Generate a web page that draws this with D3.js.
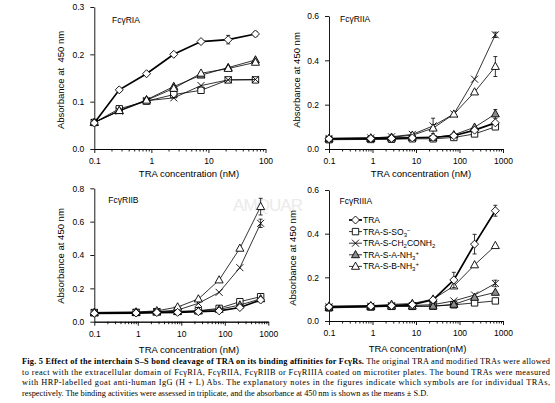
<!DOCTYPE html>
<html>
<head>
<meta charset="utf-8">
<script src="https://cdn.jsdelivr.net/npm/d3@7"></script>
<style>
  body { margin: 0; background: #fff; }
  svg text { font-family: "Liberation Sans", Arial, sans-serif; fill: #000; }
</style>
</head>
<body>
<svg id="drawing_region"></svg>
<script>
// TRA concentrations (nM), 3-fold dilutions
const conc_ria = [0.1, 0.274, 0.823, 2.47, 7.41, 22.2, 66.7];
const conc = [0.1, 0.914, 2.74, 8.23, 24.7, 74.1, 222, 667];

// FcγRIA
const ria_tra = [0.055, 0.125, 0.159, 0.200, 0.227, 0.231, 0.243];
const ria_so3 = [0.056, 0.085, 0.101, 0.115, 0.124, 0.146, 0.146];
const ria_cm  = [0.056, 0.080, 0.102, 0.108, 0.134, 0.146, 0.147];
const ria_anh = [0.056, 0.081, 0.104, 0.132, 0.156, 0.172, 0.188];
const ria_bnh = [0.056, 0.081, 0.103, 0.128, 0.160, 0.170, 0.183];
const ria_tra_sd = [0, 0, 0, 0, 0.003, 0.009, 0.005];

// FcγRIIA
const riia_tra = [0.046, 0.047, 0.048, 0.050, 0.052, 0.060, 0.085, 0.118];
const riia_so3 = [0.042, 0.043, 0.044, 0.046, 0.046, 0.052, 0.068, 0.100];
const riia_cm  = [0.048, 0.050, 0.055, 0.066, 0.104, 0.158, 0.315, 0.515];
const riia_anh = [0.045, 0.047, 0.049, 0.052, 0.052, 0.064, 0.098, 0.158];
const riia_bnh = [0.048, 0.050, 0.053, 0.062, 0.094, 0.157, 0.257, 0.372];
const riia_cm_sd  = [0, 0, 0, 0, 0.035, 0, 0, 0.012];
const riia_anh_sd = [0, 0, 0, 0, 0, 0, 0, 0.02];
const riia_bnh_sd = [0, 0, 0, 0, 0, 0, 0, 0.045];

// FcγRIIB
const riib_tra = [0.050, 0.052, 0.055, 0.056, 0.060, 0.065, 0.085, 0.130];
const riib_so3 = [0.055, 0.056, 0.060, 0.062, 0.066, 0.080, 0.120, 0.150];
const riib_cm  = [0.055, 0.056, 0.060, 0.070, 0.110, 0.176, 0.324, 0.590];
const riib_anh = [0.052, 0.054, 0.057, 0.060, 0.064, 0.074, 0.100, 0.137];
const riib_bnh = [0.056, 0.058, 0.065, 0.088, 0.136, 0.250, 0.440, 0.690];
const riib_cm_sd  = [0, 0, 0, 0, 0, 0, 0, 0.025];
const riib_bnh_sd = [0, 0, 0, 0, 0, 0, 0, 0.05];

// FcγRIIIA
const riiia_tra = [0.065, 0.068, 0.070, 0.075, 0.097, 0.188, 0.352, 0.505];
const riiia_so3 = [0.060, 0.064, 0.067, 0.067, 0.068, 0.074, 0.083, 0.092];
const riiia_cm  = [0.065, 0.068, 0.070, 0.071, 0.075, 0.092, 0.119, 0.172];
const riiia_anh = [0.062, 0.065, 0.068, 0.068, 0.068, 0.076, 0.108, 0.131];
const riiia_bnh = [0.068, 0.070, 0.076, 0.080, 0.100, 0.160, 0.257, 0.345];
const riiia_tra_sd = [0, 0, 0, 0, 0, 0.035, 0.045, 0.025];
const riiia_cm_sd  = [0, 0, 0, 0, 0, 0, 0, 0.015];

// legend labels: [text, 'n' | 'sub' | 'sup']
const legend_labels = [
    [['TRA', 'n']],
    [['TRA-S-SO', 'n'], ['3', 'sub'], ['\u2212', 'sup']],
    [['TRA-S-CH', 'n'], ['2', 'sub'], ['CONH', 'n'], ['2', 'sub']],
    [['TRA-S-A-NH', 'n'], ['3', 'sub'], ['+', 'sup']],
    [['TRA-S-B-NH', 'n'], ['3', 'sub'], ['+', 'sup']]
];

const caption_lines = [
    [['Fig. 5 Effect of the interchain S\u2013S bond cleavage of TRA on its binding affinities for Fc\u03b3Rs.', 'b'],
     [' The original TRA and modified TRAs were allowed', 'n']],
    [['to react with the extracellular domain of Fc\u03b3RIA, Fc\u03b3RIIA, Fc\u03b3RIIB or Fc\u03b3RIIIA coated on microtiter plates. The bound TRAs were measured', 'n']],
    [['with HRP-labelled goat anti-human IgG (H + L) Abs. The explanatory notes in the figures indicate which symbols are for individual TRAs,', 'n']],
    [['respectively. The binding activities were assessed in triplicate, and the absorbance at 450\u2009nm is shown as the means \u00b1 S.D.', 'n']]
];

// series styles (index follows legend_labels)
const styles = [
    {sym: 'diamond', fill: '#fff', lw: 1.7},
    {sym: 'square', fill: '#fff', lw: 0.8},
    {sym: 'cross', fill: 'none', lw: 0.8},
    {sym: 'tri', fill: '#8c8c8c', lw: 0.8},
    {sym: 'tri', fill: '#fff', lw: 0.8}
];
const draw_order = [1, 2, 3, 4, 0];

const symbols = {
    diamond: 'M0,-4L4,0L0,4L-4,0Z',
    square: 'M-3.2,-3.2H3.2V3.2H-3.2Z',
    cross: 'M-3.5,-3.5L3.5,3.5M-3.5,3.5L3.5,-3.5',
    tri: 'M0,-4.3L4,2.9H-4Z'
};

const svg = d3.select('#drawing_region')
    .attr('width', 555)
    .attr('height', 403);

class LogPanel {

    constructor( config, data ) {
        this.config = config;
        this.data = data;
        this.init();
    }

    init() {
        let self = this;
        let c = self.config;

        self.chart = svg.append('g');

        self.xscale = d3.scaleLog()
            .domain( c.xdomain )
            .range( [c.left, c.right] );

        self.yscale = d3.scaleLinear()
            .domain( [0, c.ymax] )
            .range( [c.bottom, c.top] );

        let major = [0.1, 1, 10, 100, 1000].filter(d => d <= c.xdomain[1]);
        let minor = self.xscale.ticks().filter(d => !major.some(m => Math.abs(m - d) < 1e-9));

        self.xaxis = d3.axisBottom( self.xscale )
            .tickValues( major )
            .tickFormat( d3.format('~g') )
            .tickSize(4)
            .tickPadding(5)
            .tickSizeOuter(0);

        self.xminor = d3.axisBottom( self.xscale )
            .tickValues( minor )
            .tickFormat( '' )
            .tickSize(2.5)
            .tickSizeOuter(0);

        self.yaxis = d3.axisLeft( self.yscale )
            .tickValues( d3.range(0, c.ymax + 1e-9, c.ystep) )
            .tickFormat( d3.format('.1f') )
            .tickSize(4)
            .tickPadding(6)
            .tickSizeOuter(0);
    }

    render() {
        let self = this;
        let c = self.config;

        self.chart.append('g')
            .attr('transform', `translate(0, ${c.bottom})`)
            .call( self.xminor );

        self.chart.append('g')
            .attr('transform', `translate(0, ${c.bottom})`)
            .call( self.xaxis );

        self.chart.append('g')
            .attr('transform', `translate(${c.left}, 0)`)
            .call( self.yaxis );

        self.chart.selectAll('.domain, .tick line')
            .attr('stroke', '#000')
            .attr('stroke-width', 0.9);
        self.chart.selectAll('.tick text')
            .attr('font-family', '"Liberation Sans", Arial, sans-serif')
            .attr('font-size', '8.5px')
            .attr('fill', '#000');

        // titles
        self.chart.append('text')
            .attr('x', c.title_x)
            .attr('y', c.title_y)
            .attr('font-size', '8.5px')
            .text(c.title);

        self.chart.append('text')
            .attr('x', c.xlabel_x)
            .attr('y', c.xlabel_y)
            .attr('text-anchor', 'middle')
            .attr('font-size', '9.5px')
            .text(c.xlabel);

        self.chart.append('text')
            .attr('transform', `translate(${c.ylabel_x}, ${c.ylabel_y}) rotate(-90)`)
            .attr('text-anchor', 'middle')
            .attr('font-size', '9.5px')
            .style('white-space', 'pre')
            .text(c.ylabel);

        const line = d3.line()
            .x(d => self.xscale(d.c))
            .y(d => self.yscale(d.v));

        draw_order.forEach(k => {
            let st = styles[k];
            let pts = self.data.conc.map((x, i) => ({
                c: x,
                v: self.data.values[k][i],
                sd: self.data.sd[k] ? self.data.sd[k][i] : 0
            }));

            self.chart.append('path')
                .datum(pts)
                .attr('d', line)
                .attr('fill', 'none')
                .attr('stroke', '#000')
                .attr('stroke-width', st.lw);

            let eb = self.chart.append('g')
                .attr('stroke', '#000')
                .attr('stroke-width', 0.8);
            pts.filter(d => d.sd > 0).forEach(d => {
                let x = self.xscale(d.c);
                let y1 = self.yscale(d.v - d.sd);
                let y2 = self.yscale(d.v + d.sd);
                eb.append('line').attr('x1', x).attr('x2', x).attr('y1', y1).attr('y2', y2);
                eb.append('line').attr('x1', x - 2).attr('x2', x + 2).attr('y1', y1).attr('y2', y1);
                eb.append('line').attr('x1', x - 2).attr('x2', x + 2).attr('y1', y2).attr('y2', y2);
            });

            self.chart.selectAll(null)
                .data(pts)
                .join('path')
                .attr('transform', d => `translate(${self.xscale(d.c)}, ${self.yscale(d.v)})`)
                .attr('d', symbols[st.sym])
                .attr('fill', st.fill)
                .attr('stroke', '#000')
                .attr('stroke-width', 0.9);
        });
    }
}

const panels = [
    {
        config: {left: 94.3, right: 265.5, bottom: 149, top: 7, xdomain: [0.1, 100], ymax: 0.3, ystep: 0.1,
                 title: 'Fc\u03b3RIA', title_x: 112, title_y: 22.5,
                 xlabel: 'TRA concentration (nM)', xlabel_x: 189, xlabel_y: 177,
                 ylabel: 'Absorbance at  450 nm', ylabel_x: 64, ylabel_y: 80},
        data: {conc: conc_ria, values: [ria_tra, ria_so3, ria_cm, ria_anh, ria_bnh],
               sd: [ria_tra_sd, null, null, null, null]}
    },
    {
        config: {left: 329, right: 503, bottom: 149, top: 16, xdomain: [0.1, 1000], ymax: 0.6, ystep: 0.2,
                 title: 'Fc\u03b3RIIA', title_x: 340, title_y: 21.5,
                 xlabel: 'TRA concentration (nM)', xlabel_x: 421, xlabel_y: 177,
                 ylabel: 'Absorbance at 450 nm', ylabel_x: 300, ylabel_y: 80},
        data: {conc: conc, values: [riia_tra, riia_so3, riia_cm, riia_anh, riia_bnh],
               sd: [null, null, riia_cm_sd, riia_anh_sd, riia_bnh_sd]}
    },
    {
        config: {left: 94.3, right: 268.3, bottom: 321.7, top: 188.3, xdomain: [0.1, 1000], ymax: 0.8, ystep: 0.2,
                 title: 'Fc\u03b3RIIB', title_x: 108.3, title_y: 203,
                 xlabel: 'TRA concentration (nM)', xlabel_x: 189, xlabel_y: 353,
                 ylabel: 'Absorbance at 450 nm', ylabel_x: 64, ylabel_y: 256},
        data: {conc: conc, values: [riib_tra, riib_so3, riib_cm, riib_anh, riib_bnh],
               sd: [null, null, riib_cm_sd, null, riib_bnh_sd]}
    },
    {
        config: {left: 329, right: 503, bottom: 321, top: 190, xdomain: [0.1, 1000], ymax: 0.6, ystep: 0.2,
                 title: 'Fc\u03b3RIIIA', title_x: 339.5, title_y: 203.7,
                 xlabel: 'TRA concentration(nM)', xlabel_x: 417.5, xlabel_y: 351.7,
                 ylabel: 'Absorbance at 450 nm', ylabel_x: 296, ylabel_y: 258},
        data: {conc: conc, values: [riiia_tra, riiia_so3, riiia_cm, riiia_anh, riiia_bnh],
               sd: [riiia_tra_sd, null, riiia_cm_sd, null, null]}
    }
];

// faint watermark
svg.append('text')
    .attr('x', 233)
    .attr('y', 211)
    .attr('font-size', '17px')
    .attr('textLength', 70)
    .style('fill', '#ebebeb')
    .text('AMQUAR');

panels.forEach(p => {
    const panel = new LogPanel( p.config, p.data );
    panel.render();
});

// legend (FcγRIIIA panel)
const legend = svg.append('g');
legend_labels.forEach((parts, i) => {
    let st = styles[i];
    let y = 220 + i * 11.6;
    legend.append('line')
        .attr('x1', 349).attr('x2', 362)
        .attr('y1', y).attr('y2', y)
        .attr('stroke', '#000')
        .attr('stroke-width', st.lw);
    legend.append('path')
        .attr('transform', `translate(355.5, ${y})`)
        .attr('d', symbols[st.sym])
        .attr('fill', st.fill)
        .attr('stroke', '#000')
        .attr('stroke-width', 0.9);
    let t = legend.append('text')
        .attr('x', 363)
        .attr('y', y + 3)
        .attr('font-size', '8.5px');
    let shift = 0;
    parts.forEach(([s, kind]) => {
        let target = kind === 'sub' ? 2 : kind === 'sup' ? -3 : 0;
        t.append('tspan')
            .attr('dy', target - shift)
            .attr('font-size', kind === 'n' ? '8.5px' : '6px')
            .text(s);
        shift = target;
    });
});

// caption
const caption = svg.append('g');
caption_lines.forEach((parts, i) => {
    let t = caption.append('text')
        .attr('x', 22)
        .attr('y', 364 + i * 10.5)
        .attr('font-size', '8.3px')
        .style('font-family', '"Liberation Serif", "Times New Roman", serif');
    if (i < 3) {
        t.attr('textLength', 528).attr('lengthAdjust', 'spacing');
    }
    parts.forEach(([s, kind]) => {
        t.append('tspan')
            .attr('font-weight', kind === 'b' ? 'bold' : 'normal')
            .text(s);
    });
});
</script>
</body>
</html>
